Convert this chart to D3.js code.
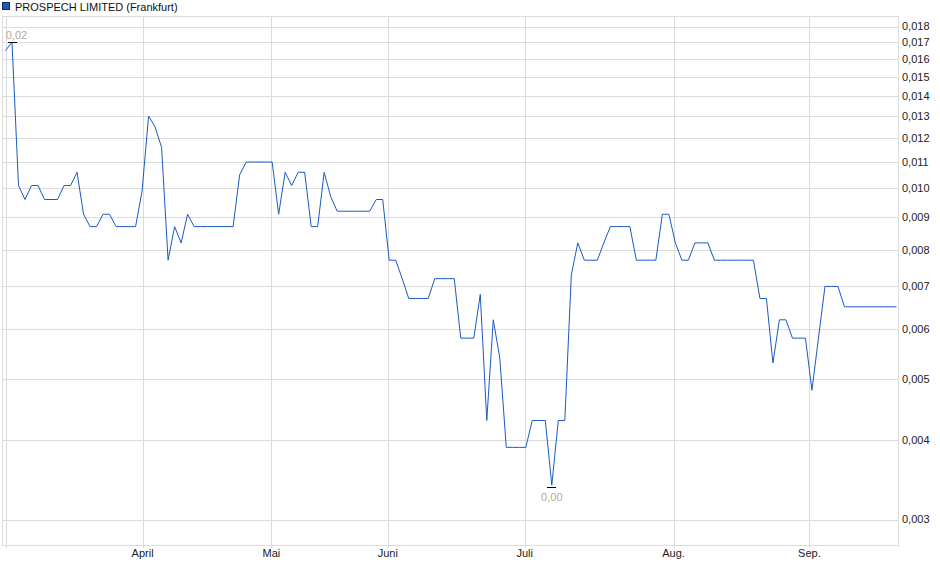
<!DOCTYPE html>
<html>
<head>
<meta charset="utf-8">
<script src="https://cdn.jsdelivr.net/npm/d3@7"></script>
<style>
  html, body { margin: 0; padding: 0; background: #fff; }
  svg { display: block; font-family: "Liberation Sans", Arial, sans-serif; }
</style>
</head>
<body>
<svg id="chart" width="940" height="579"></svg>
<script>
// ---- data (one value per trading session) ----
const title = "PROSPECH LIMITED (Frankfurt)";
const prices = [
  0.0165,0.0170,0.0101,0.0096,0.0101,0.0101,0.0096,0.0096,0.0096,0.0101,
  0.0101,0.0106,0.0091,0.0087,0.0087,0.0091,0.0091,0.0087,0.0087,0.0087,
  0.0087,0.0099,0.0130,0.0125,0.0116,0.0077,0.0087,0.0082,0.0091,0.0087,
  0.0087,0.0087,0.0087,0.0087,0.0087,0.0087,0.0105,0.0110,0.0110,0.0110,
  0.0110,0.0110,0.0091,0.0106,0.0101,0.0106,0.0106,0.0087,0.0087,0.0106,
  0.0097,0.0092,0.0092,0.0092,0.0092,0.0092,0.0092,0.0096,0.0096,0.0077,
  0.0077,0.0072,0.0067,0.0067,0.0067,0.0067,0.0072,0.0072,0.0072,0.0072,
  0.0058,0.0058,0.0058,0.0068,0.0043,0.0062,0.0054,0.0039,0.0039,0.0039,
  0.0039,0.0043,0.0043,0.0043,0.0034,0.0043,0.0043,0.0073,0.0082,0.0077,
  0.0077,0.0077,0.0082,0.0087,0.0087,0.0087,0.0087,0.0077,0.0077,0.0077,
  0.0077,0.0091,0.0091,0.0082,0.0077,0.0077,0.0082,0.0082,0.0082,0.0077,
  0.0077,0.0077,0.0077,0.0077,0.0077,0.0077,0.0067,0.0067,0.0053,0.0062,
  0.0062,0.0058,0.0058,0.0058,0.0048,0.0058,0.0070,0.0070,0.0070,0.0065,
  0.0065,0.0065,0.0065,0.0065,0.0065,0.0065,0.0065,0.0065
];
// month boundaries expressed in session index units
const monthLabels = ["", "April", "Mai", "Juni", "Juli", "Aug.", "Sep."];
const monthPositions = [0, 21.08, 40.89, 58.79, 79.83, 102.72, 123.61];
const yTickValues = [0.003,0.004,0.005,0.006,0.007,0.008,0.009,0.010,
                     0.011,0.012,0.013,0.014,0.015,0.016,0.017,0.018];
const yDomain = [0.00273, 0.01867];

// ---- layout ----
const frame = { left: 2.5, right: 898.5, top: 16.5, bottom: 545.5 };
const svg = d3.select("#chart");

const x = d3.scaleLinear().domain([0, prices.length - 1]).range([5.5, 896.5]);
const y = d3.scaleLog().domain(yDomain).range([frame.bottom, frame.top]);
const locale = d3.formatLocale({decimal: ",", thousands: ".", grouping: [3], currency: ["", "€"]});
const fmtY = locale.format(".3f");
const fmt2 = locale.format(".2f");

const gridColor = "#dcdcdc";

// horizontal grid
svg.append("g").selectAll("line").data(yTickValues).join("line")
  .attr("x1", frame.left).attr("x2", frame.right)
  .attr("y1", d => Math.round(y(d)) + 0.5).attr("y2", d => Math.round(y(d)) + 0.5)
  .attr("stroke", gridColor).attr("stroke-width", 1)
  .attr("shape-rendering", "crispEdges");

// vertical grid (month ticks)
svg.append("g").selectAll("line").data(monthPositions).join("line")
  .attr("x1", d => Math.round(x(d)) + 0.5).attr("x2", d => Math.round(x(d)) + 0.5)
  .attr("y1", frame.top).attr("y2", frame.bottom + 2)
  .attr("stroke", gridColor).attr("stroke-width", 1)
  .attr("shape-rendering", "crispEdges");

// frame
svg.append("rect")
  .attr("x", frame.left).attr("y", frame.top)
  .attr("width", frame.right - frame.left).attr("height", frame.bottom - frame.top)
  .attr("fill", "none").attr("stroke", gridColor).attr("shape-rendering", "crispEdges");

// y axis labels (right)
svg.append("g").selectAll("text").data(yTickValues).join("text")
  .attr("x", 902).attr("y", d => y(d))
  .attr("dy", "0.35em")
  .attr("font-size", 11).attr("fill", "#222")
  .text(d => fmtY(d));

// x axis labels
svg.append("g").selectAll("text").data(monthPositions.map((p, i) => ({p, l: monthLabels[i]})).filter(d => d.l)).join("text")
  .attr("x", d => x(d.p)).attr("y", 557)
  .attr("text-anchor", "middle")
  .attr("font-size", 11).attr("fill", "#222")
  .text(d => d.l);

// price line
const line = d3.line().x((d, i) => x(i)).y(d => y(d));
svg.append("path")
  .datum(prices)
  .attr("d", line)
  .attr("fill", "none")
  .attr("stroke", "#1a5ac4")
  .attr("stroke-width", 1);

// max / min markers
const iMax = d3.maxIndex(prices), iMin = d3.minIndex(prices);
const markers = [
  {i: iMax, v: prices[iMax], dy: -3.5, off: 0, dx: 4.5},
  {i: iMin, v: prices[iMin], dy: 16, off: 2, dx: 0}
];
svg.append("g").selectAll("line").data(markers).join("line")
  .attr("x1", d => x(d.i) - 4.5).attr("x2", d => x(d.i) + 4.5)
  .attr("y1", d => Math.round(y(d.v)) + d.off + 0.5).attr("y2", d => Math.round(y(d.v)) + d.off + 0.5)
  .attr("stroke", "#000").attr("stroke-width", 1).attr("shape-rendering", "crispEdges");
svg.append("g").selectAll("text").data(markers).join("text")
  .attr("x", d => x(d.i) + d.dx)
  .attr("y", d => y(d.v) + d.dy)
  .attr("text-anchor", "middle")
  .attr("font-size", 11).attr("fill", "#b3aa9c")
  .text(d => fmt2(d.v));

// legend / title
svg.append("rect")
  .attr("x", 2.5).attr("y", 2.5).attr("width", 7).attr("height", 7)
  .attr("fill", "#1f58b8").attr("stroke", "#0b2a66").attr("stroke-width", 1)
  .attr("shape-rendering", "crispEdges");
svg.append("text")
  .attr("x", 15).attr("y", 10.5)
  .attr("font-size", 11).attr("fill", "#111")
  .text(title);
</script>
</body>
</html>
